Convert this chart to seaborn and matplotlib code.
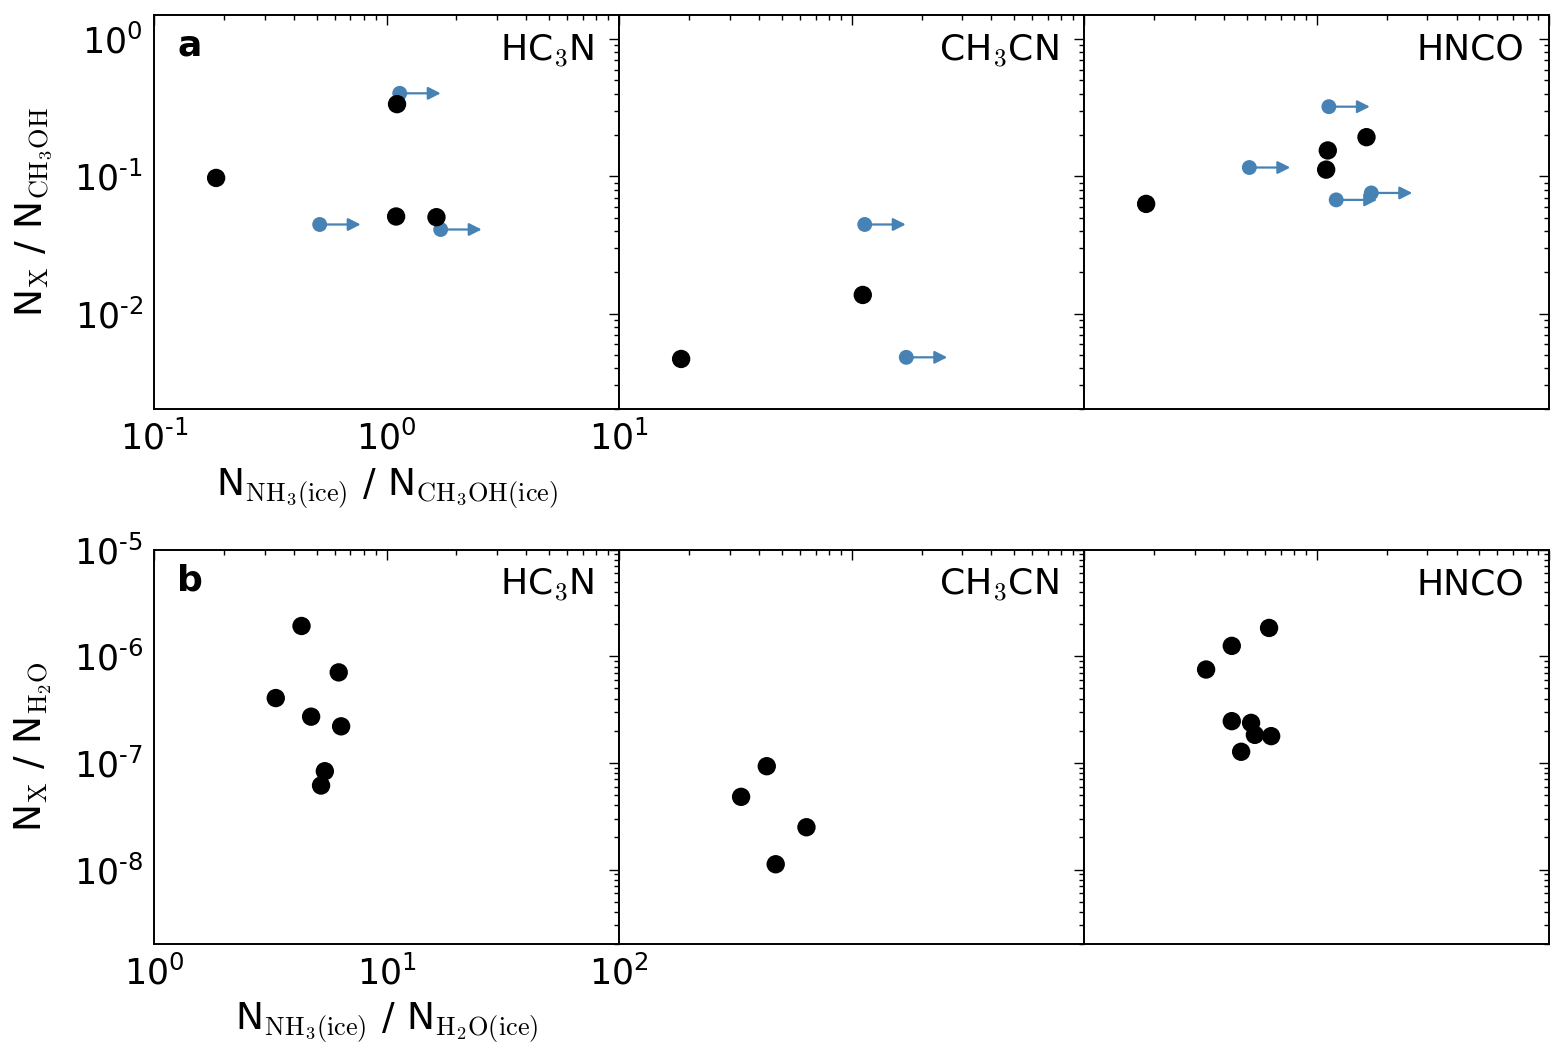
import math
import matplotlib
matplotlib.use("Agg")
import matplotlib.pyplot as plt
import matplotlib.ticker as mticker
import seaborn as sns

# panel a : N_X / N_CH3OH vs NH3(ice)/CH3OH(ice)
a_hc3n_x = [0.185, 1.11, 1.10, 1.64]
a_hc3n_y = [0.0974, 0.336, 0.051, 0.0504]
a_hc3n_lim_x = [1.14, 0.516, 1.71]
a_hc3n_lim_y = [0.403, 0.0446, 0.041]

a_ch3cn_x = [0.185, 1.118]
a_ch3cn_y = [0.00467, 0.01367]
a_ch3cn_lim_x = [1.14, 1.72]
a_ch3cn_lim_y = [0.0446, 0.0048]

a_hnco_x = [0.185, 1.118, 1.10, 1.64]
a_hnco_y = [0.063, 0.1545, 0.112, 0.193]
a_hnco_lim_x = [1.13, 0.514, 1.215, 1.72]
a_hnco_lim_y = [0.322, 0.116, 0.0674, 0.0757]

# panel b : N_X / N_H2O vs NH3(ice)/H2O(ice)
b_hc3n_x = [4.31, 6.23, 3.34, 4.74, 6.38, 5.43, 5.23]
b_hc3n_y = [1.92e-6, 7.05e-7, 4.05e-7, 2.71e-7, 2.2e-7, 8.35e-8, 6.13e-8]
b_ch3cn_x = [4.32, 3.35, 6.40, 4.72]
b_ch3cn_y = [9.3e-8, 4.8e-8, 2.49e-8, 1.12e-8]
b_hnco_x = [6.25, 4.32, 3.35, 4.32, 5.23, 5.43, 6.38, 4.74]
b_hnco_y = [1.84e-6, 1.25e-6, 7.5e-7, 2.46e-7, 2.37e-7, 1.83e-7, 1.78e-7, 1.27e-7]

molecules = [r"HC$_3$N", r"CH$_3$CN", "HNCO"]
panel_letters = ["a", "b"]

sns.set_style("white")
plt.rcParams.update({
    "font.family": ["DejaVu Sans"],
    "mathtext.fontset": "cm",
    "text.color": "black",
    "axes.labelcolor": "black",
    "xtick.direction": "in",
    "ytick.direction": "in",
    "xtick.top": True,
    "ytick.right": True,
    "xtick.major.size": 7,
    "ytick.major.size": 7,
    "xtick.minor.size": 3.5,
    "ytick.minor.size": 3.5,
    "xtick.major.width": 1.0,
    "ytick.major.width": 1.0,
    "xtick.minor.width": 1.0,
    "ytick.minor.width": 1.0,
    "xtick.color": "black",
    "ytick.color": "black",
    "axes.edgecolor": "black",
    "axes.linewidth": 1.4,
})

BLUE = "#4682b4"
ARROW_FACTOR = 1.5


def pow10_label(v, pos):
    e = int(round(math.log10(v)))
    s = str(e).replace("-", "\u2010")
    return r"$\mathregular{10^{%s}}$" % s


fig, axes = plt.subplots(2, 3, figsize=(15.65, 10.63), dpi=100)
fig.subplots_adjust(left=0.0984, right=0.9898, top=0.9859, bottom=0.1119,
                    wspace=0, hspace=0.355)

top_det = [(a_hc3n_x, a_hc3n_y), (a_ch3cn_x, a_ch3cn_y), (a_hnco_x, a_hnco_y)]
top_lim = [(a_hc3n_lim_x, a_hc3n_lim_y), (a_ch3cn_lim_x, a_ch3cn_lim_y),
           (a_hnco_lim_x, a_hnco_lim_y)]
bot_det = [(b_hc3n_x, b_hc3n_y), (b_ch3cn_x, b_ch3cn_y), (b_hnco_x, b_hnco_y)]

for row in range(2):
    for col in range(3):
        ax = axes[row, col]
        ax.set_xscale("log")
        ax.set_yscale("log")
        if row == 0:
            ax.set_xlim(0.1, 10)
            ax.set_ylim(0.002, 1.5)
            lx, ly = top_lim[col]
            # lower limits -> arrows pointing right
            for xv, yv in zip(lx, ly):
                ax.annotate("", xy=(xv * ARROW_FACTOR, yv), xytext=(xv, yv),
                            arrowprops=dict(arrowstyle="-|>,head_length=0.75,head_width=0.38",
                                            color=BLUE, lw=1.6, mutation_scale=10,
                                            shrinkA=0, shrinkB=0),
                            zorder=2)
            sns.scatterplot(x=lx, y=ly, ax=ax, color=BLUE, s=115,
                            edgecolor="none", zorder=3)
            dx, dy = top_det[col]
        else:
            ax.set_xlim(1, 100)
            ax.set_ylim(2e-9, 1e-5)
            dx, dy = bot_det[col]
        sns.scatterplot(x=dx, y=dy, ax=ax, color="black", s=175,
                        edgecolor="none", zorder=4)

        ax.xaxis.set_major_formatter(mticker.FuncFormatter(pow10_label))
        ax.yaxis.set_major_formatter(mticker.FuncFormatter(pow10_label))
        ax.xaxis.set_minor_formatter(mticker.NullFormatter())
        ax.yaxis.set_minor_formatter(mticker.NullFormatter())
        ax.tick_params(which="both", labelsize=25, pad=8)
        if col > 0:
            ax.tick_params(labelleft=False, labelbottom=False)

        ax.text(0.946, 0.955, molecules[col], transform=ax.transAxes,
                ha="right", va="top", fontsize=26)
        if col == 0:
            ax.text(0.05, 0.965, panel_letters[row], transform=ax.transAxes,
                    ha="left", va="top", fontsize=26, fontweight="bold")

axes[0, 0].set_ylabel(r"N$_{\mathrm{X}}$ / N$_{\mathrm{CH_3OH}}$", fontsize=27, labelpad=14)
axes[0, 0].set_xlabel(r"N$_{\mathrm{NH_3(ice)}}$ / N$_{\mathrm{CH_3OH(ice)}}$", fontsize=27, labelpad=7)
axes[1, 0].set_ylabel(r"N$_{\mathrm{X}}$ / N$_{\mathrm{H_2O}}$", fontsize=27, labelpad=14)
axes[1, 0].set_xlabel(r"N$_{\mathrm{NH_3(ice)}}$ / N$_{\mathrm{H_2O(ice)}}$", fontsize=27, labelpad=7)

fig.savefig("out.png", dpi=100)
